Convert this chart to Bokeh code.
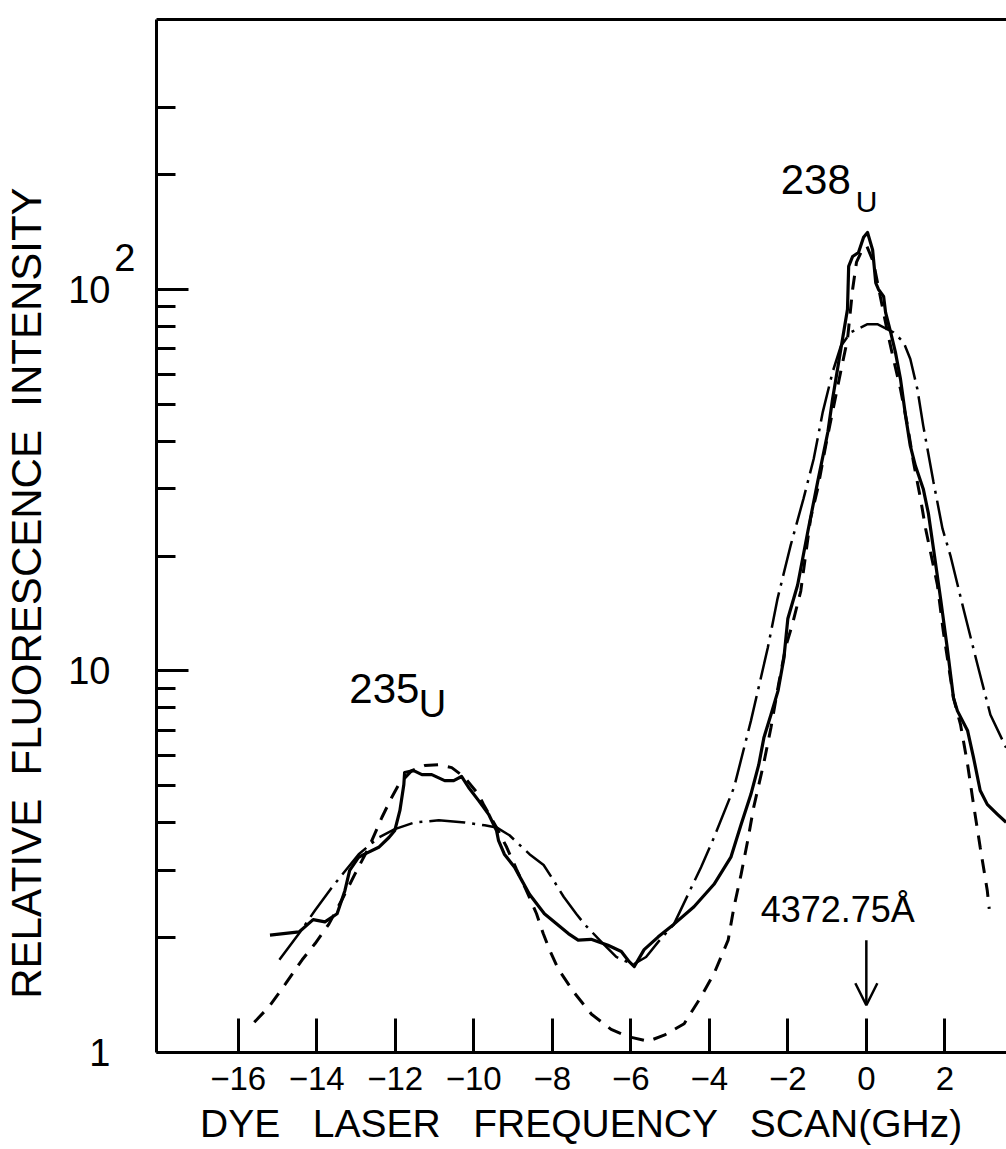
from bokeh.plotting import figure
from bokeh.models import Range1d, FixedTicker, LinearAxis, LogAxis, Label, Arrow, OpenHead
from bokeh.embed import file_html
from bokeh.resources import INLINE

# ---------------- data ----------------
# measured fluorescence spectrum (solid)
measured_x = [-15.19, -14.45, -14.09, -13.79, -13.48, -13.28, -13.16, -12.93, -12.78, -12.42, -12.16, -12.01,
              -11.88, -11.78, -11.76, -11.53, -11.32, -11.07, -10.74, -10.51, -10.31, -10.13, -9.88, -9.62, -9.42, -9.37,
              -9.22, -8.96, -8.78, -8.58, -8.20, -7.59, -7.34, -7.01, -6.58, -6.24, -6.04, -5.91,
              -5.66, -5.30, -4.90, -4.39, -3.88, -3.45, -3.19, -2.94, -2.74, -2.61, -2.43, -2.25, -2.10, -2.00,
              -1.75, -1.49, -1.24, -0.98, -0.86, -0.65, -0.48, -0.45, -0.35, -0.20, -0.07, 0.03, 0.16, 0.24, 0.31, 0.44, 0.49, 0.62, 0.74, 0.87,
              1.00, 1.12, 1.25, 1.45, 1.58, 1.71, 1.89, 2.06, 2.22, 2.32, 2.58, 2.73, 2.90, 3.08, 3.34, 3.56]
measured_y = [2.03, 2.07, 2.23, 2.20, 2.31, 2.66, 3.00, 3.25, 3.31, 3.45, 3.66, 3.82,
              4.31, 5.04, 5.42, 5.48, 5.35, 5.35, 5.16, 5.16, 5.29, 4.95, 4.58, 4.21, 3.82, 3.60,
              3.31, 3.06, 2.83, 2.60, 2.31, 2.05, 1.97, 1.98, 1.91, 1.84, 1.73, 1.68,
              1.86, 2.01, 2.17, 2.41, 2.76, 3.25, 3.96, 4.75, 5.68, 6.68, 7.68, 8.87, 10.8, 13.7,
              16.8, 23.2, 31.3, 42.3, 51.6, 69.7, 88.7, 115, 122, 125, 137, 141, 127, 104, 100, 95.9, 87.1, 77.2, 68.5, 58.2,
              46.6, 38.9, 34.5, 30.0, 25.9, 20.9, 15.5, 11.5, 8.50, 7.86, 6.97, 5.93, 4.86, 4.47, 4.21, 4.01]

# narrow calculated profile (short dashes)
narrow_x = [-15.59, -15.21, -14.80, -14.37, -14.04, -13.69, -13.36, -13.03, -12.67, -12.34,
            -12.09, -11.91, -11.58, -11.25, -10.89, -10.56, -10.23, -9.88, -9.75, -9.42,
            -9.16, -8.91, -8.66, -8.40, -8.23, -8.07, -7.84, -7.43, -7.00, -6.50,
            -6.06, -5.56, -5.15, -4.64, -4.21, -3.88, -3.52, -3.37, -3.19, -3.02,
            -2.87, -2.61, -2.43, -2.23, -2.05, -1.88, -1.67, -1.42, -1.24, -1.04,
            -0.83, -0.65, -0.48, -0.35, -0.25, -0.12, 0.01, 0.18, 0.36, 0.54,
            0.69, 0.87, 1.05, 1.20, 1.38, 1.51, 1.63, 1.81, 1.96, 2.22,
            2.40, 2.58, 2.73, 2.90, 3.08, 3.13]
narrow_y = [1.20, 1.32, 1.51, 1.75, 1.93, 2.17, 2.51, 2.93, 3.45, 4.13,
            4.66, 5.04, 5.48, 5.65, 5.68, 5.58, 5.26, 4.75, 4.47, 3.89,
            3.45, 3.02, 2.66, 2.31, 2.05, 1.86, 1.65, 1.43, 1.26, 1.15,
            1.10, 1.07, 1.11, 1.19, 1.40, 1.61, 1.97, 2.41, 2.93, 3.60,
            4.39, 5.75, 7.10, 9.30, 11.6, 13.3, 16.2, 25.1, 30.0, 38.7,
            49.5, 61.1, 74.0, 100, 118, 126, 130, 118, 95.3, 77.2,
            65.7, 54.8, 43.9, 35.3, 28.3, 23.6, 20.6, 16.8, 12.7, 8.50,
            7.23, 5.68, 4.47, 3.45, 2.66, 2.38]

# broad calculated profile (dash-dot)
broad_x = [-14.95, -14.45, -14.04, -13.61, -12.93, -12.42, -12.01, -11.50, -10.89, -10.23,
           -9.72, -9.42, -9.09, -8.58, -8.22, -7.97, -7.71, -7.39, -7.18, -6.75,
           -6.37, -5.94, -5.61, -5.30, -4.90, -4.21, -3.88, -3.37, -2.94, -2.51,
           -2.26, -1.93, -1.60, -1.34, -1.11, -0.86, -0.65, -0.40, 0.03, 0.28,
           0.69, 0.95, 1.12, 1.30, 1.45, 1.71, 1.94, 2.14, 2.47, 2.83,
           3.16, 3.56]
broad_y = [1.75, 2.05, 2.36, 2.71, 3.31, 3.66, 3.85, 4.01, 4.06, 4.01,
           3.94, 3.89, 3.71, 3.31, 3.10, 2.83, 2.56, 2.31, 2.17, 1.95,
           1.78, 1.70, 1.78, 1.95, 2.17, 3.06, 3.66, 4.95, 7.40, 11.5,
           15.5, 21.3, 28.3, 36.0, 47.7, 60.7, 71.0, 77.2, 81.1, 81.1,
           77.2, 72.7, 65.7, 54.8, 43.9, 31.3, 23.6, 20.1, 14.6, 10.4,
           7.68, 6.29]

x_ticks = [-16, -14, -12, -10, -8, -6, -4, -2, 0, 2]
x_tick_labels = ["\u221216", "\u221214", "\u221212", "\u221210", "\u22128", "\u22126", "\u22124", "\u22122", "0", "2"]
y_major_ticks = [1, 10, 100]
y_tick_labels = ["1", "10", "10"]          # the 10 at 100 carries a superscript 2
y_minor_ticks = [2, 3, 4, 5, 6, 7, 8, 9, 20, 30, 40, 50, 60, 70, 80, 90, 200, 300]
superscript_at = 121                       # height of the exponent "2" of 10^2
y_title_at = 16

x_title = "DYE \u00a0 LASER \u00a0 FREQUENCY \u00a0 SCAN(GHz)"
y_title = "RELATIVE \u00a0FLUORESCENCE \u00a0INTENSITY"

isotope_labels = [("238", -2.18, 194, "42px"), ("U", -0.27, 170, "30px"),
                  ("235", -13.17, 9.0, "42px"), ("U", -11.40, 8.17, "38px")]
wavelength_label = ("4372.75\u00c5", -2.69, 2.37, "36px")
arrow_y = (1.97, 1.33)

# ---------------- figure ----------------
FONT = "Liberation Sans"

p = figure(width=1006, height=1149, x_range=Range1d(-18.08, 3.57), y_range=Range1d(1, 510),
           y_axis_type="log", output_backend="svg", toolbar_location=None,
           min_border_left=154, min_border_right=0, min_border_top=19, min_border_bottom=97,
           outline_line_color=None, background_fill_color="white", border_fill_color="white")
p.xgrid.visible = False
p.ygrid.visible = False

xa = p.xaxis[0]
xa.ticker = FixedTicker(ticks=x_ticks)
xa.major_label_overrides = dict(zip(x_ticks, x_tick_labels))
xa.axis_line_width = 3
xa.axis_line_color = "black"
xa.major_tick_in = 34
xa.major_tick_out = 0
xa.major_tick_line_width = 3
xa.minor_tick_in = 0
xa.minor_tick_out = 0
xa.major_label_standoff = 14
xa.major_label_text_font = FONT
xa.major_label_text_font_size = "33px"
xa.major_label_text_color = "black"
xa.axis_label = x_title
xa.axis_label_standoff = 9
xa.axis_label_text_font = FONT
xa.axis_label_text_font_size = "39px"
xa.axis_label_text_font_style = "normal"
xa.axis_label_text_color = "black"

# primary y axis: line and tick marks only
ya = p.yaxis[0]
ya.ticker = FixedTicker(ticks=y_major_ticks, minor_ticks=y_minor_ticks)
ya.major_label_overrides = {t: "" for t in y_major_ticks}
ya.axis_line_width = 3
ya.axis_line_color = "black"
ya.major_tick_in = 32
ya.major_tick_out = 0
ya.major_tick_line_width = 3
ya.minor_tick_in = 19
ya.minor_tick_out = 0
ya.minor_tick_line_width = 3
ya.minor_tick_line_color = "black"
ya.major_label_standoff = 0

def text_axis(ticks, labels, standoff, size, orientation="horizontal"):
    ax = LogAxis(ticker=FixedTicker(ticks=ticks), major_label_overrides=dict(zip(ticks, labels)),
                 axis_line_color=None, major_tick_line_color=None, minor_tick_line_color=None,
                 major_tick_in=0, major_tick_out=0, minor_tick_in=0, minor_tick_out=0,
                 major_label_standoff=standoff, major_label_text_font=FONT,
                 major_label_text_font_size=size, major_label_text_color="black",
                 major_label_orientation=orientation)
    p.add_layout(ax, "left")
    return ax

# exponent of 10^2, then the tick labels, then the axis title
text_axis([superscript_at], ["2"], 21, "38px")
text_axis(y_major_ticks, y_tick_labels, 1, "38px")
text_axis([y_title_at], [y_title], 15, "42px", "parallel")

top = LinearAxis(ticker=FixedTicker(ticks=[]), axis_line_width=3, axis_line_color="black",
                 major_tick_in=0, major_tick_out=0, minor_tick_in=0, minor_tick_out=0,
                 major_label_standoff=0)
p.add_layout(top, "above")

# curves
p.line(broad_x, broad_y, line_color="black", line_width=2.5, line_dash="36 7 3 7")
p.line(narrow_x, narrow_y, line_color="black", line_width=3, line_dash="14 10")
p.line(measured_x, measured_y, line_color="black", line_width=3.2, line_join="round")

# isotope labels and the wavelength marker
for txt, lx, ly, fs in isotope_labels + [wavelength_label]:
    p.add_layout(Label(x=lx, y=ly, text=txt, text_baseline="alphabetic", text_font=FONT,
                       text_font_size=fs, text_color="black"))
p.add_layout(Arrow(end=OpenHead(size=22, line_width=2.5, line_color="black"),
                   x_start=0, y_start=arrow_y[0], x_end=0, y_end=arrow_y[1],
                   line_width=2.5, line_color="black"))

open("out.html", "w").write(file_html(p, INLINE))
